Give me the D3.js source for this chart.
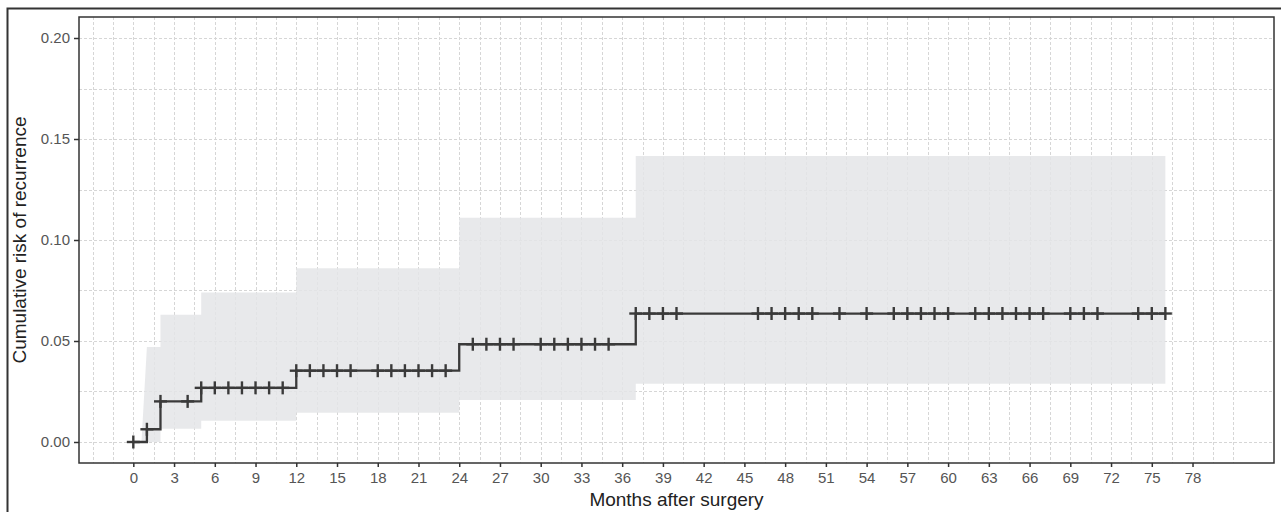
<!DOCTYPE html>
<html>
<head>
<meta charset="utf-8">
<script src="https://cdn.jsdelivr.net/npm/d3@7/dist/d3.min.js"></script>
<style>
  body { margin: 0; background: #fff; }
  svg { display: block; }
  text { font-family: "Liberation Sans", Arial, sans-serif; }
</style>
</head>
<body>
<div id="chart"></div>
<script>
// cumulative incidence curve (step times in months, risk after each step)
const stepTimes = [0, 1, 2, 5, 12, 24, 37];
const stepRisk = [0, 0.0063, 0.0201, 0.0268, 0.0353, 0.0484, 0.0636];
const endTime = 76;

// confidence band
const bandStart = 0.6;
const bandTimes = [1, 2, 5, 12, 24, 37];
const bandUpper = [0.047, 0.063, 0.074, 0.086, 0.111, 0.1416];
const bandLower = [0, 0.0065, 0.0105, 0.0145, 0.0208, 0.0288];

// censored observations
const censorTimes = [0, 1, 2, 4, 5, 6, 7, 8, 9, 10, 11,
  12, 13, 14, 15, 16, 18, 19, 20, 21, 22, 23,
  25, 26, 27, 28, 30, 31, 32, 33, 34, 35,
  37, 38, 39, 40, 46, 47, 48, 49, 50, 52, 54, 56, 57, 58, 59, 60,
  62, 63, 64, 65, 66, 67, 69, 70, 71, 74, 75, 76];

// axes
const xTicks = [0, 3, 6, 9, 12, 15, 18, 21, 24, 27, 30, 33, 36, 39, 42, 45, 48, 51, 54, 57, 60, 63, 66, 69, 72, 75, 78];
const yTicks = [0, 0.05, 0.10, 0.15, 0.20];
const yMinor = [0.025, 0.075, 0.125, 0.175];

const width = 1281, height = 512;
const panel = { left: 79, right: 1274, top: 17, bottom: 463 };
const lineColor = '#3a3a3a';
const bandColor = '#e4e5e7';

const svg = d3.select('#chart').append('svg')
  .attr('width', width)
  .attr('height', height);

const x = d3.scaleLinear().domain([-4, 84]).range([panel.left, panel.right]);
const y = d3.scaleLinear().domain([-0.0104, 0.2104]).range([panel.bottom, panel.top]);

// outer frame
svg.append('rect')
  .attr('x', 7.5).attr('y', 8.5)
  .attr('width', width).attr('height', height)
  .attr('fill', 'none')
  .attr('stroke', '#333')
  .attr('stroke-width', 2);

svg.append('clipPath').attr('id', 'panel-clip')
  .append('rect')
  .attr('x', panel.left).attr('y', panel.top)
  .attr('width', panel.right - panel.left).attr('height', panel.bottom - panel.top);

// grid (major + minor, dashed)
const grid = svg.append('g').attr('clip-path', 'url(#panel-clip)')
  .attr('stroke', '#d6d6d6')
  .attr('stroke-width', 1)
  .attr('stroke-dasharray', '3,2');

const xGrid = [];
xTicks.forEach(t => { xGrid.push(t - 1.5, t); });
xGrid.push(xTicks[0] - 3, 79.5, 81);

grid.selectAll('line.vx')
  .data(xGrid)
  .enter().append('line')
  .attr('x1', d => Math.round(x(d)) + 0.5)
  .attr('x2', d => Math.round(x(d)) + 0.5)
  .attr('y1', panel.top).attr('y2', panel.bottom);

grid.selectAll('line.hy')
  .data(yTicks.concat(yMinor))
  .enter().append('line')
  .attr('y1', d => Math.round(y(d)) + 0.5)
  .attr('y2', d => Math.round(y(d)) + 0.5)
  .attr('x1', panel.left).attr('x2', panel.right);

// confidence band polygon
const bandPts = [[bandStart, bandLower[0]]];
bandTimes.forEach((t, i) => {
  const next = i < bandTimes.length - 1 ? bandTimes[i + 1] : endTime;
  bandPts.push([t, bandUpper[i]], [next, bandUpper[i]]);
});
for (let i = bandTimes.length - 1; i >= 0; i--) {
  const next = i < bandTimes.length - 1 ? bandTimes[i + 1] : endTime;
  bandPts.push([next, bandLower[i]], [i === 0 ? bandStart : bandTimes[i], bandLower[i]]);
}

svg.append('path')
  .attr('clip-path', 'url(#panel-clip)')
  .attr('d', d3.line().x(d => x(d[0])).y(d => y(d[1]))(bandPts) + 'Z')
  .attr('fill', bandColor)
  .attr('fill-opacity', 0.85);

// step curve
const curvePts = stepTimes.map((t, i) => [t, stepRisk[i]]);
curvePts.push([endTime, stepRisk[stepRisk.length - 1]]);

svg.append('path')
  .attr('d', d3.line().curve(d3.curveStepAfter).x(d => x(d[0])).y(d => y(d[1]))(curvePts))
  .attr('fill', 'none')
  .attr('stroke', lineColor)
  .attr('stroke-width', 2.3);

// risk at time t (right-continuous)
function riskAt(t) {
  let r = 0;
  stepTimes.forEach((s, i) => { if (s <= t) r = stepRisk[i]; });
  return r;
}

// censor marks
const marks = svg.append('g')
  .attr('stroke', lineColor)
  .attr('stroke-width', 2.4);

censorTimes.forEach(t => {
  const cx = x(t), cy = y(riskAt(t));
  marks.append('line').attr('x1', cx - 6.5).attr('x2', cx + 6.5).attr('y1', cy).attr('y2', cy);
  marks.append('line').attr('x1', cx).attr('x2', cx).attr('y1', cy - 6.5).attr('y2', cy + 6.5);
});

// panel border
svg.append('rect')
  .attr('x', panel.left).attr('y', panel.top)
  .attr('width', panel.right - panel.left).attr('height', panel.bottom - panel.top)
  .attr('fill', 'none')
  .attr('stroke', '#333')
  .attr('stroke-width', 1.5);

// axes
const xAxis = svg.append('g')
  .attr('transform', `translate(0,${panel.bottom})`)
  .call(d3.axisBottom(x).tickValues(xTicks).tickSize(4).tickPadding(5).tickFormat(d3.format('d')));
const yAxis = svg.append('g')
  .attr('transform', `translate(${panel.left},0)`)
  .call(d3.axisLeft(y).tickValues(yTicks).tickSize(5).tickPadding(4).tickFormat(d3.format('.2f')));

[xAxis, yAxis].forEach(a => {
  a.select('.domain').remove();
  a.selectAll('.tick line').attr('stroke', '#333').attr('stroke-width', 1.5);
  a.selectAll('.tick text')
    .attr('fill', '#555')
    .style('font-size', '15px');
});

// axis titles
svg.append('text')
  .attr('x', (panel.left + panel.right) / 2)
  .attr('y', 506)
  .attr('text-anchor', 'middle')
  .attr('fill', '#222')
  .style('font-size', '19px')
  .text('Months after surgery');

svg.append('text')
  .attr('transform', `translate(26,${(panel.top + panel.bottom) / 2}) rotate(-90)`)
  .attr('text-anchor', 'middle')
  .attr('fill', '#222')
  .style('font-size', '19px')
  .text('Cumulative risk of recurrence');
</script>
</body>
</html>
